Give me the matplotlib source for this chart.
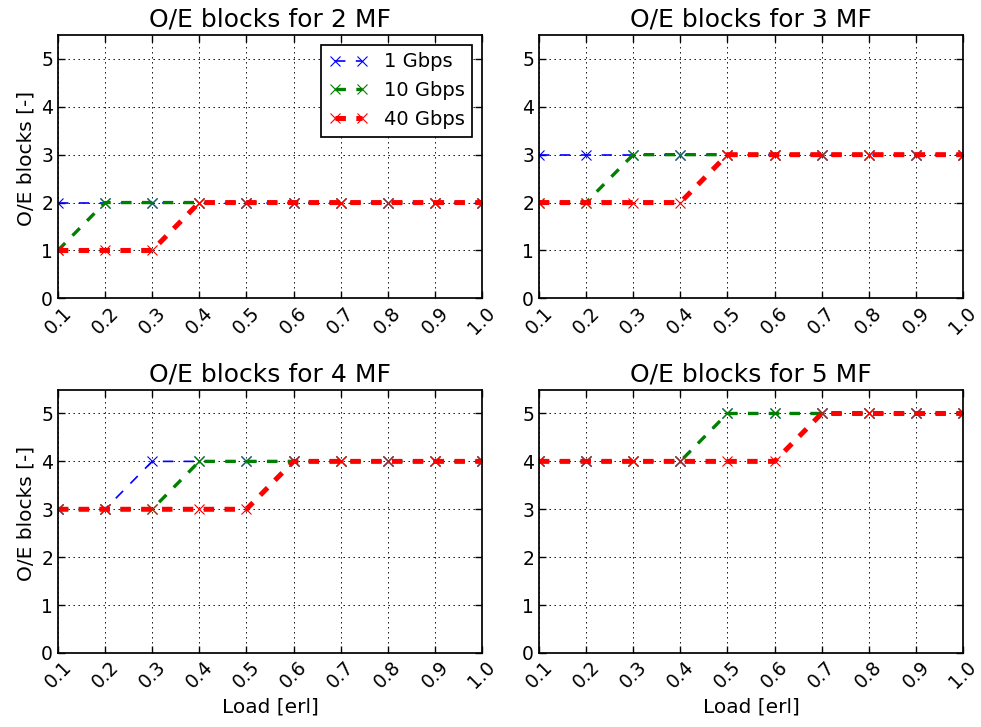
import matplotlib
matplotlib.use('Agg')
import matplotlib.pyplot as plt

load = [0.1, 0.2, 0.3, 0.4, 0.5, 0.6, 0.7, 0.8, 0.9, 1.0]
tick_labels = ['0.1', '0.2', '0.3', '0.4', '0.5', '0.6', '0.7', '0.8', '0.9', '1.0']
mf_counts = [2, 3, 4, 5]
rates = ['1 Gbps', '10 Gbps', '40 Gbps']

# O/E blocks per MF for 1, 10 and 40 Gbps
mf2_1g = [2, 2, 2, 2, 2, 2, 2, 2, 2, 2]
mf2_10g = [1, 2, 2, 2, 2, 2, 2, 2, 2, 2]
mf2_40g = [1, 1, 1, 2, 2, 2, 2, 2, 2, 2]

mf3_1g = [3, 3, 3, 3, 3, 3, 3, 3, 3, 3]
mf3_10g = [2, 2, 3, 3, 3, 3, 3, 3, 3, 3]
mf3_40g = [2, 2, 2, 2, 3, 3, 3, 3, 3, 3]

mf4_1g = [3, 3, 4, 4, 4, 4, 4, 4, 4, 4]
mf4_10g = [3, 3, 3, 4, 4, 4, 4, 4, 4, 4]
mf4_40g = [3, 3, 3, 3, 3, 4, 4, 4, 4, 4]

mf5_1g = [4, 4, 4, 4, 5, 5, 5, 5, 5, 5]
mf5_10g = [4, 4, 4, 4, 5, 5, 5, 5, 5, 5]
mf5_40g = [4, 4, 4, 4, 4, 4, 5, 5, 5, 5]

all_data = [[mf2_1g, mf2_10g, mf2_40g],
            [mf3_1g, mf3_10g, mf3_40g],
            [mf4_1g, mf4_10g, mf4_40g],
            [mf5_1g, mf5_10g, mf5_40g]]

colors = ['blue', 'green', 'red']
widths = [1.2, 2.4, 3.6]

plt.rcParams['font.family'] = 'DejaVu Sans'
plt.rcParams['lines.scale_dashes'] = False
plt.rcParams['xtick.direction'] = 'in'
plt.rcParams['ytick.direction'] = 'in'
plt.rcParams['xtick.top'] = True
plt.rcParams['ytick.right'] = True
plt.rcParams['xtick.major.size'] = 5
plt.rcParams['ytick.major.size'] = 5
plt.rcParams['xtick.major.width'] = 1
plt.rcParams['ytick.major.width'] = 1

fig, axes = plt.subplots(2, 2, figsize=(9.81, 7.27), dpi=100)
fig.subplots_adjust(left=0.059, right=0.9817, top=0.952, bottom=0.1018, hspace=0.346, wspace=0.134)

for i, ax in enumerate(axes.flat):
    for j in range(3):
        ax.plot(load, all_data[i][j], color=colors[j], linestyle='--', dashes=(7.5, 7.5),
                linewidth=widths[j], marker='x', markersize=7.5, markeredgewidth=0.8,
                label=rates[j])
    ax.set_title('O/E blocks for %d MF' % mf_counts[i], fontsize=18)
    ax.set_xlim(0.1, 1.0)
    ax.set_ylim(0, 5.5)
    ax.set_xticks(load)
    ax.set_xticklabels(tick_labels, rotation=45, fontsize=13.5)
    ax.set_yticks([0, 1, 2, 3, 4, 5])
    ax.tick_params(axis='y', labelsize=13.5)
    ax.grid(True, color='black', linestyle=(0, (1, 2.6)), linewidth=0.7)
    if i % 2 == 0:
        ax.set_ylabel('O/E blocks [-]', fontsize=14.5)
        ax.yaxis.label.set_y(0.53)
    if i >= 2:
        ax.set_xlabel('Load [erl]', fontsize=14.5)
    for s in ax.spines.values():
        s.set_linewidth(1.25)

leg = axes[0, 0].legend(loc='upper right', numpoints=2, fancybox=False, fontsize=14,
                        edgecolor='black', framealpha=1, borderaxespad=0.5)
leg.get_frame().set_linewidth(1.25)

plt.savefig('out.png', dpi=100)
